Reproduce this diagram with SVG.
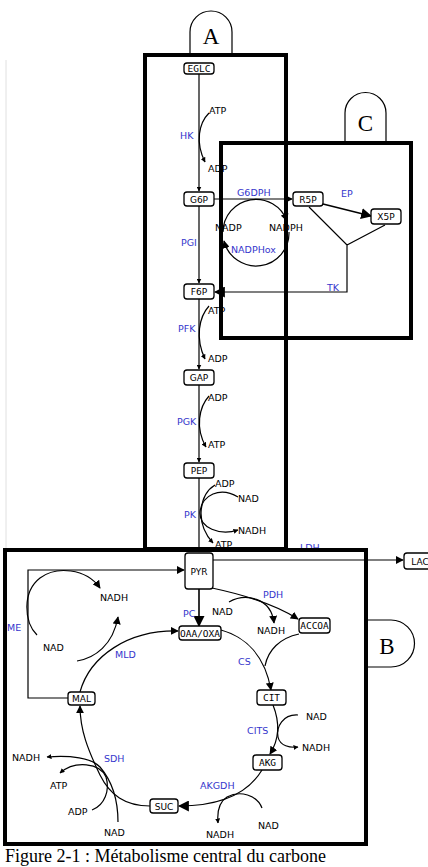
<svg xmlns="http://www.w3.org/2000/svg" width="428" height="867" viewBox="0 0 428 867">
<style>
.frame{fill:none;stroke:#000;stroke-width:4}
.tab{fill:#fff;stroke:#000;stroke-width:1.2}
.tabt{font-family:"Liberation Serif",serif;font-size:23px;fill:#000}
.node rect{fill:#fff;stroke:#000;stroke-width:1.3}
.nt{font-family:"DejaVu Sans",sans-serif;font-size:9px;fill:#000;text-anchor:middle}
.mt{font-family:"DejaVu Sans Mono",monospace;font-size:9.5px;fill:#000;text-anchor:middle}
.lbl{font-family:"DejaVu Sans",sans-serif;font-size:9.5px;fill:#000}
.enz{font-family:"DejaVu Sans",sans-serif;font-size:9.5px;fill:#3535cc}
.c{fill:none;stroke:#000;stroke-width:1.2}
.t{fill:none;stroke:#000;stroke-width:1.6}
.cap{font-family:"Liberation Serif",serif;font-size:18px;fill:#000}
</style>
<defs>
<marker id="s" viewBox="0 0 10 10" refX="9" refY="5" markerWidth="5" markerHeight="5" markerUnits="userSpaceOnUse" orient="auto"><path d="M0,0 L10,5 L0,10 z" fill="#000"/></marker>
<marker id="m" viewBox="0 0 10 10" refX="9" refY="5" markerWidth="8" markerHeight="8" markerUnits="userSpaceOnUse" orient="auto"><path d="M0,0 L10,5 L0,10 z" fill="#000"/></marker>
<marker id="b" viewBox="0 0 10 10" refX="9" refY="5" markerWidth="11" markerHeight="11" markerUnits="userSpaceOnUse" orient="auto"><path d="M0,0 L10,5 L0,10 z" fill="#000"/></marker>
</defs>
<rect width="428" height="867" fill="#fff"/>
<line x1="6" y1="60" x2="6" y2="549" stroke="#e0e0e0" stroke-width="1"/>

<!-- labels partially hidden by frames -->
<text class="enz" x="300" y="551">LDH</text>
<text class="lbl" x="215" y="548">ATP</text>

<g id="connectors">
<!-- glycolysis main line -->
<path class="c" d="M199,74 V191" marker-end="url(#s)"/>
<path class="c" d="M199,206 V283" marker-end="url(#s)"/>
<path class="c" d="M199,299 V369" marker-end="url(#s)"/>
<path class="c" d="M199,385 V462" marker-end="url(#s)"/>
<path class="c" d="M199,478 V552" marker-end="url(#s)"/>
<!-- cofactor curves -->
<path class="c" d="M209,113 C199,123 195,142 205,162" marker-end="url(#s)"/>
<path class="c" d="M209,306 C199,317 195,338 205,359" marker-end="url(#s)"/>
<path class="c" d="M209,396 C199,407 195,428 206,447" marker-end="url(#s)"/>
<path class="c" d="M215,485 C200,494 194,522 213,543" marker-end="url(#s)"/>
<path class="c" d="M238,497 C220,486 202,495 200,512 C199,528 220,536 238,530" marker-end="url(#s)"/>
<!-- pentose phosphate -->
<path class="c" d="M214,199 H292" marker-end="url(#m)"/>
<path class="t" d="M323,204 L371,216" marker-end="url(#b)"/>
<path class="c" d="M309,207 L347,245 L385,225 M347,245 V292 H215" marker-end="url(#b)"/>
<path class="c" d="M223,232 A33,33 0 0 1 287,221" marker-end="url(#m)"/>
<path class="c" d="M289,232 A33,33 0 0 1 224,241" marker-end="url(#m)"/>
<!-- B region -->
<path class="c" d="M213,560 H403" marker-end="url(#m)"/>
<path class="c" d="M68,698 H28 V570 H184" marker-end="url(#m)"/>
<path class="c" d="M37,635 C24,622 22,592 40,578 C56,566 86,568 100,588" marker-end="url(#m)"/>
<path class="c" d="M80,692 C90,656 128,630 178,631" marker-end="url(#m)"/>
<path class="c" d="M77,661 C95,658 113,645 118,617" marker-end="url(#m)"/>
<path class="t" d="M199,589 V626" marker-end="url(#b)"/>
<path class="c" d="M212,588 C245,595 276,605 298,619" marker-end="url(#m)"/>
<path class="c" d="M229,602 C245,593 271,597 274,623" marker-end="url(#m)"/>
<path class="c" d="M221,630 C246,637 265,656 271,690" marker-end="url(#m)"/>
<path class="c" d="M299,634 C280,638 268,650 265,666"/>
<path class="c" d="M273,705 C279,720 280,738 270,754" marker-end="url(#m)"/>
<path class="c" d="M298,715 C283,714 276,727 278,737 C280,746 290,748 298,747" marker-end="url(#s)"/>
<path class="c" d="M262,770 C250,790 226,806 179,806" marker-end="url(#b)"/>
<path class="c" d="M262,808 C257,795 240,790 227,797 C219,802 217,812 218,823" marker-end="url(#s)"/>
<path class="c" d="M150,806 C125,806 110,795 100,775 C88,750 80,730 80,706" marker-end="url(#m)"/>
<path class="c" d="M118,822 C118,800 112,781 100,767 C92,758 70,755 47,757" marker-end="url(#s)"/>
<path class="c" d="M92,810 C105,805 110,790 106,777 C100,763 75,760 60,773" marker-end="url(#s)"/>
</g>

<!-- frames -->
<g id="frameA">
<rect class="frame" x="145" y="55" width="141" height="494"/>
<path class="tab" d="M190,53 V32 A21,21 0 0 1 232,32 V53"/>
<text class="tabt" x="211" y="44" text-anchor="middle">A</text>
</g>
<g id="frameC">
<rect class="frame" x="221" y="143" width="190" height="195"/>
<path class="tab" d="M345,141 V113 A20.5,20.5 0 0 1 386,113 V141"/>
<text class="tabt" x="365.5" y="131" text-anchor="middle">C</text>
</g>
<g id="frameB">
<rect class="frame" x="5" y="550" width="361" height="294"/>
<path class="tab" d="M368,620 H391 A23.5,23.5 0 0 1 391,667 H368"/>
<text class="tabt" x="387" y="654" text-anchor="middle">B</text>
</g>

<!-- nodes -->
<g id="EGLC" class="node"><rect x="184" y="63" width="30" height="11" rx="3"/><text class="mt" x="199" y="72">EGLC</text></g>
<g id="G6P" class="node"><rect x="184" y="192" width="30" height="14" rx="3"/><text class="nt" x="199" y="202.5">G6P</text></g>
<g id="R5P" class="node"><rect x="293" y="192" width="30" height="14" rx="3"/><text class="nt" x="308" y="202.5">R5P</text></g>
<g id="X5P" class="node"><rect x="371" y="209" width="30" height="15" rx="3"/><text class="nt" x="386" y="220">X5P</text></g>
<g id="F6P" class="node"><rect x="184" y="284" width="30" height="15" rx="3"/><text class="nt" x="199" y="295">F6P</text></g>
<g id="GAP" class="node"><rect x="184" y="370" width="30" height="15" rx="3"/><text class="nt" x="199" y="381">GAP</text></g>
<g id="PEP" class="node"><rect x="184" y="463" width="30" height="15" rx="3"/><text class="nt" x="199" y="474">PEP</text></g>
<g id="PYR" class="node"><rect x="185" y="553" width="28" height="36" rx="3"/><text class="nt" x="199" y="574.5">PYR</text></g>
<g id="LAC" class="node"><rect x="404" y="553" width="32" height="16" rx="3"/><text class="nt" x="420" y="564.5">LAC</text></g>
<g id="OAA" class="node"><rect x="179" y="626" width="42" height="14" rx="3"/><text class="mt" x="200" y="636.5">OAA/OXA</text></g>
<g id="ACCOA" class="node"><rect x="299" y="618" width="31" height="15" rx="3"/><text class="mt" x="314.5" y="629">ACCOA</text></g>
<g id="CIT" class="node"><rect x="257" y="690" width="29" height="15" rx="3"/><text class="mt" x="271.5" y="701">CIT</text></g>
<g id="AKG" class="node"><rect x="253" y="755" width="29" height="15" rx="3"/><text class="mt" x="267.5" y="766">AKG</text></g>
<g id="SUC" class="node"><rect x="150" y="799" width="28" height="14" rx="3"/><text class="nt" x="164" y="809.5">SUC</text></g>
<g id="MAL" class="node"><rect x="68" y="692" width="27" height="13" rx="3"/><text class="nt" x="81.5" y="702">MAL</text></g>

<!-- labels -->
<g id="labels">
<text class="enz" x="180" y="139">HK</text>
<text class="lbl" x="209" y="114">ATP</text>
<text class="lbl" x="208" y="172">ADP</text>
<text class="enz" x="237" y="196">G6DPH</text>
<text class="enz" x="341" y="197">EP</text>
<text class="lbl" x="215" y="231">NADP</text>
<text class="lbl" x="269" y="231">NADPH</text>
<text class="enz" x="181" y="246">PGI</text>
<text class="enz" x="231" y="253">NADPHox</text>
<text class="enz" x="327" y="291">TK</text>
<text class="lbl" x="208" y="314">ATP</text>
<text class="enz" x="178" y="332">PFK</text>
<text class="lbl" x="208" y="362">ADP</text>
<text class="lbl" x="208" y="401">ADP</text>
<text class="enz" x="177" y="425">PGK</text>
<text class="lbl" x="208" y="448">ATP</text>
<text class="lbl" x="215" y="487">ADP</text>
<text class="lbl" x="238" y="502">NAD</text>
<text class="enz" x="184" y="518">PK</text>
<text class="lbl" x="238" y="534">NADH</text>
<text class="lbl" x="100" y="601">NADH</text>
<text class="enz" x="7" y="631">ME</text>
<text class="lbl" x="43" y="651">NAD</text>
<text class="enz" x="115" y="658">MLD</text>
<text class="enz" x="183" y="617">PC</text>
<text class="lbl" x="212" y="615">NAD</text>
<text class="enz" x="263" y="598">PDH</text>
<text class="lbl" x="257" y="634">NADH</text>
<text class="enz" x="238" y="665">CS</text>
<text class="lbl" x="306" y="720">NAD</text>
<text class="enz" x="247" y="734">CITS</text>
<text class="lbl" x="302" y="751">NADH</text>
<text class="enz" x="200" y="789">AKGDH</text>
<text class="lbl" x="258" y="829">NAD</text>
<text class="lbl" x="206" y="838">NADH</text>
<text class="enz" x="104" y="762">SDH</text>
<text class="lbl" x="12" y="761">NADH</text>
<text class="lbl" x="50" y="789">ATP</text>
<text class="lbl" x="68" y="815">ADP</text>
<text class="lbl" x="104" y="836">NAD</text>
</g>
<text class="cap" x="5" y="862">Figure 2-1 : Métabolisme central du carbone</text>
</svg>
